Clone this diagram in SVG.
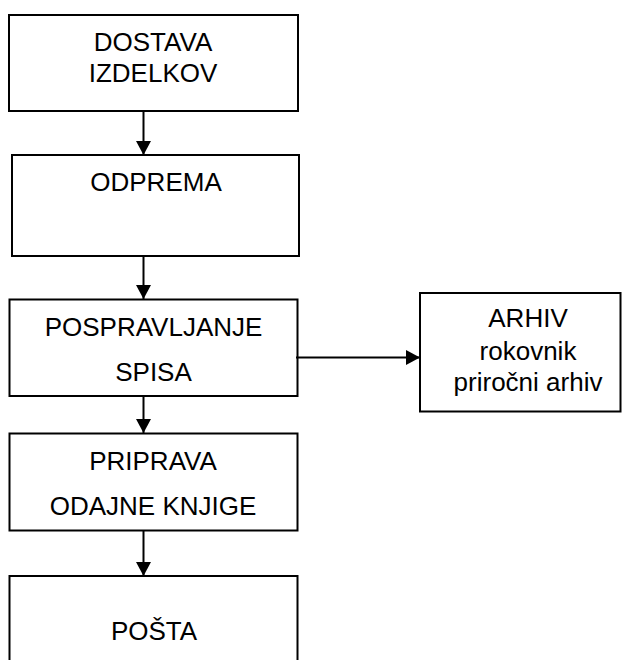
<svg xmlns="http://www.w3.org/2000/svg" width="624" height="660" viewBox="0 0 624 660">
  <style>
    .box { fill: #ffffff; stroke: #000000; stroke-width: 2; }
    .lbl { font-family: "Liberation Sans", Arial, sans-serif; font-size: 26px; fill: #000000; text-anchor: middle; }
    .edge { stroke: #000000; stroke-width: 2; fill: none; marker-end: url(#arrow); }
  </style>
  <defs>
    <marker id="arrow" viewBox="0 0 14 15" refX="14" refY="7.5" markerWidth="14" markerHeight="15" markerUnits="userSpaceOnUse" orient="auto">
      <path d="M0,0 L14,7.5 L0,15 z" fill="#000000"/>
    </marker>
  </defs>
  <rect width="624" height="660" fill="#ffffff"/>

  <g id="dostava">
    <rect class="box" x="9" y="15" width="289" height="96"/>
    <text class="lbl" x="153" y="51">DOSTAVA</text>
    <text class="lbl" x="153" y="82">IZDELKOV</text>
  </g>

  <g id="odprema">
    <rect class="box" x="12" y="155" width="287" height="101"/>
    <text class="lbl" x="156" y="191">ODPREMA</text>
  </g>

  <g id="pospravljanje">
    <rect class="box" x="9.5" y="299.5" width="288" height="96.5"/>
    <text class="lbl" x="153.5" y="336">POSPRAVLJANJE</text>
    <text class="lbl" x="153.5" y="381">SPISA</text>
  </g>

  <g id="arhiv">
    <rect class="box" x="420" y="293" width="200.5" height="118.5"/>
    <text class="lbl" x="528" y="327">ARHIV</text>
    <text class="lbl" x="528" y="360">rokovnik</text>
    <text class="lbl" x="528" y="391">priročni arhiv</text>
  </g>

  <g id="priprava">
    <rect class="box" x="9.5" y="433.5" width="288" height="97"/>
    <text class="lbl" x="153" y="470">PRIPRAVA</text>
    <text class="lbl" x="153" y="515">ODAJNE KNJIGE</text>
  </g>

  <g id="posta">
    <rect class="box" x="9.5" y="576" width="288" height="100"/>
    <text class="lbl" x="154" y="640">POŠTA</text>
  </g>

  <g id="connectors">
    <line class="edge" x1="143.5" y1="111" x2="143.5" y2="155"/>
    <line class="edge" x1="143.5" y1="256" x2="143.5" y2="299"/>
    <line class="edge" x1="143.5" y1="396" x2="143.5" y2="433"/>
    <line class="edge" x1="143.5" y1="531" x2="143.5" y2="576"/>
    <line class="edge" x1="296" y1="357.5" x2="420" y2="357.5"/>
  </g>
</svg>
